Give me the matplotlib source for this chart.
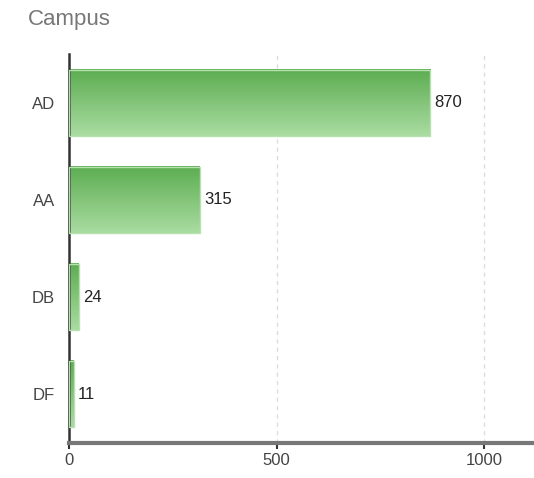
import matplotlib.pyplot as plt
import numpy as np
from matplotlib.colors import LinearSegmentedColormap

plt.rcParams["font.family"] = ["Liberation Sans", "DejaVu Sans"]

# Data
campuses = ["AD", "AA", "DB", "DF"]
counts = [870, 315, 24, 11]
xticks = [0, 500, 1000]

fig = plt.figure(figsize=(5.34, 4.78), dpi=100)
ax = fig.add_axes([69/534, 1 - 443/478, (534 - 69)/534, (443 - 54)/478])

bars = ax.barh(campuses, counts, height=0.68, color="none", edgecolor="#b7e2b0", linewidth=1, zorder=3)

# vertical gradient fill for each bar
cmap = LinearSegmentedColormap.from_list("grn", ["#5dad52", "#a9dca1"])
grad = np.linspace(0, 1, 100).reshape(-1, 1)
for b in bars:
    x0, y0 = b.get_x(), b.get_y()
    w, h = b.get_width(), b.get_height()
    ax.imshow(grad, cmap=cmap, aspect="auto", extent=[x0, x0 + w, y0 + h, y0],
              origin="upper", zorder=2)
    ax.text(x0 + w + 10, y0 + h / 2, str(int(w)), va="center", ha="left",
            fontsize=12, color="#222222")

ax.set_xlim(0, 1120)
ax.set_ylim(3.5, -0.5)
ax.set_xticks(xticks)
ax.grid(axis="x", color="#dddddd", linestyle=(0, (3, 3)), linewidth=1, zorder=0)

for s in ["top", "right"]:
    ax.spines[s].set_visible(False)
ax.spines["left"].set_color("#333333")
ax.spines["left"].set_linewidth(1.8)
ax.spines["bottom"].set_color("#777777")
ax.spines["bottom"].set_linewidth(3)

ax.tick_params(axis="y", length=0, pad=10, labelsize=12, labelcolor="#444444")
ax.tick_params(axis="x", length=4, width=1.5, color="#333333", labelsize=12, labelcolor="#444444")

fig.text(28/534, 1 - 20/478, "Campus", fontsize=16, color="#777777", va="center", ha="left")

fig.savefig("out.png", dpi=100)
